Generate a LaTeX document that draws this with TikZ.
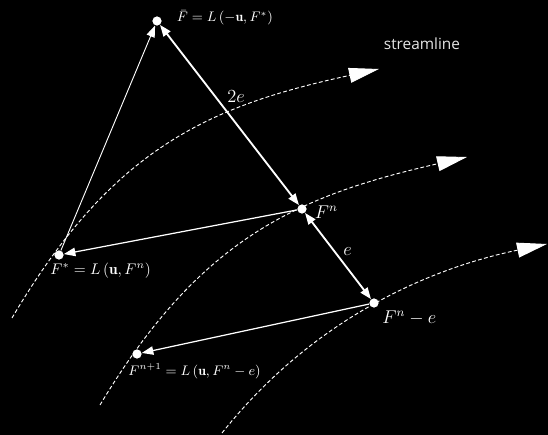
\documentclass[tikz,border=0pt]{standalone}
\usepackage{fontspec}
\newfontfamily\streamfont{Open Sans}
\usetikzlibrary{positioning, arrows.meta}

\begin{document}
\begin{tikzpicture}[
            x=0.65pt, y=-0.65pt,
            dot/.style={
                    circle,
                    fill=white,
                    inner sep=0pt,
                    minimum size=6pt
                },
            lab/.style={
                    text=white,
                    inner sep=1pt
                },
            arrow/.style={
                    -{Triangle[length=7.5pt,width=5.5pt]},
                    white,
                    line width=0.8pt
                },
            twoway/.style={
                    {Triangle[length=7.5pt,width=5.5pt]}-{Triangle[length=7.5pt,width=5.5pt]},
                    white,
                    line width=1.2pt
                },
            stream/.style={
                    -{Triangle[length=19.5pt,width=9.75pt]},
                    white,
                    line width=0.6pt,
                    dash pattern=on 2.5pt off 1.5pt
                }
        ]


        \fill[black] (0,0) rectangle (548,435);


        \node[dot] (fbar) at (157,21) {};
        \node[dot] (fstar) at (59,255) {};
        \node[dot] (fn) at (302,209) {};
        \node[dot] (fne) at (374,303) {};
        \node[dot] (fnext) at (137,354) {};


        \node[lab,right=8.5pt of fbar,yshift=2pt,font=\small]
        (fbarlab)
        {$\bar F = L\left(-\mathbf{u}, F^{*}\right)$};

        \node[lab,below right=1.5pt and -9pt of fstar]
        (fstarlab)
        {$F^{*} = L\left(\mathbf{u}, F^{n}\right)$};

        \node[lab,right=4pt of fn,yshift=-2pt,font=\large]
        (fnlab)
        {$F^{n}$};

        \node[lab,below right=1.5pt and 2pt of fne,font=\large]
        (fnelab)
        {$F^{n}-e$};

        \node[lab,below right=3pt and -9pt of fnext,font=\small]
        (fnextlab)
        {$F^{n+1} = L\left(\mathbf{u}, F^{n}-e\right)$};

        \node[lab,text=white!90!black,font=\streamfont] (streamlab) at (422,44)
        {streamline};


        \draw[stream] (12,318) .. controls (112,148) and (209,106) .. (379,69);
        \draw[stream] (100,405) .. controls (200,238) and (297,196) .. (467,157);
        \draw[stream] (222,433) .. controls (312,320) and (427,269) .. (547,244);


        \draw[arrow,line width=0.6pt](fstar)--(fbar);
        \draw[twoway](fbar)--node[lab,pos=0.4,right=6pt,font=\large]{$2e$}(fn);
        \draw[arrow](fn)--(fstar);
        \draw[twoway](fn)--node[lab,pos=0.45,right=4pt,font=\large]{$e$}(fne);
        \draw[arrow](fne)--(fnext);


    \end{tikzpicture}
\end{document}
